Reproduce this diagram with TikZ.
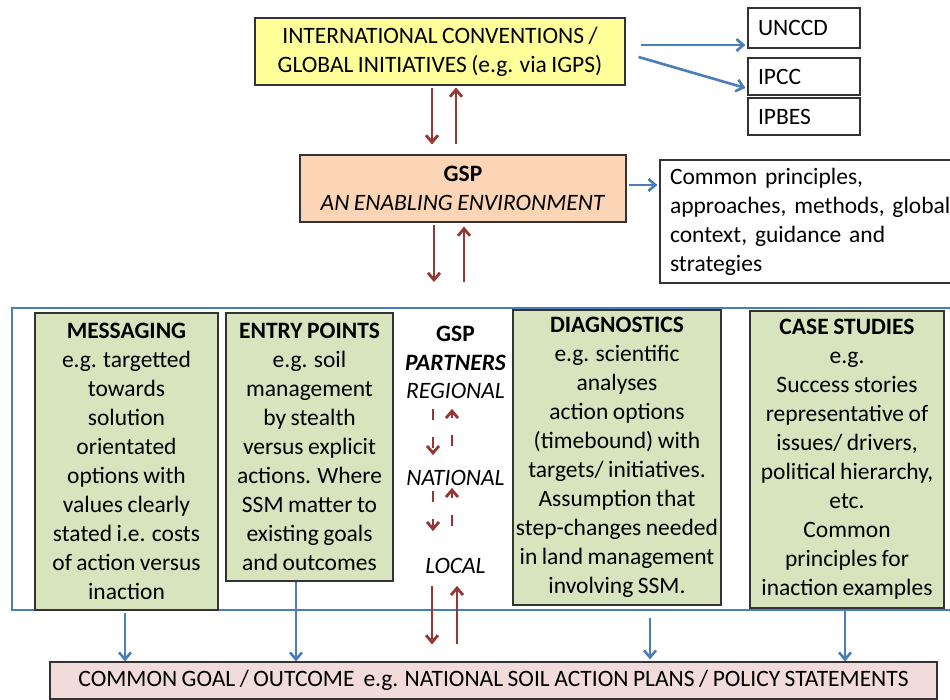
\documentclass[tikz,border=0pt]{standalone}
\usepackage{fontspec}
\setmainfont{Carlito}[WordSpace=0.85]
\usetikzlibrary{arrows.meta,positioning}
\definecolor{gspred}{HTML}{953735}
\definecolor{gspblue}{HTML}{4A7EBB}
\definecolor{boxgreen}{HTML}{D7E4BD}
\definecolor{boxyellow}{HTML}{FFFF99}
\definecolor{boxpeach}{HTML}{FBD5B5}
\definecolor{boxpink}{HTML}{F2DCDB}
\tikzset{>={Straight Barb[length=7pt,width=12pt]}}
\tikzset{
  box/.style = {draw=black!80, line width=1.2pt, inner sep=0pt, align=center,
    font=\fontsize{23.5}{29}\selectfont},
  leftbox/.style = {box, align=left, inner xsep=10pt},
  greenbox/.style = {box, fill=boxgreen},
  level/.style = {inner sep=0pt, align=center, font=\fontsize{23.5}{29}\selectfont},
  feed/.style = {->, gspblue, line width=2.6pt},
  link/.style = {->, gspred, line width=2.8pt},
  dlink/.style = {link, dash pattern=on 11pt off 17pt}
}

\begin{document}
\begin{tikzpicture}[x=1pt,y=-1pt]
  \clip (0,0) rectangle (950,700);
  \fill[white] (0,0) rectangle (950,700);

  \node[box, fill=boxyellow, minimum width=370, minimum height=67] (conv) at (440,51.5)
    {INTERNATIONAL CONVENTIONS /\\GLOBAL INITIATIVES (e.g. via IGPS)};
  \node[leftbox, text width=92pt, minimum height=40] (unccd) at (804,28) {UNCCD};
  \node[leftbox, text width=92pt, minimum height=37] (ipcc) at (804,76.5) {IPCC};
  \node[leftbox, text width=92pt, minimum height=37] (ipbes) at (804,116.5) {IPBES};

  \node[box, fill=boxpeach, minimum width=326, minimum height=67] (gsp) at (463,188.5)
    {\textbf{GSP}\\\textit{AN ENABLING ENVIRONMENT}};
  \node[leftbox, text width=320pt, minimum height=123] (common) at (830,221.5)
    {Common principles,\\approaches, methods, global\\context, guidance and\\strategies};

  \node[draw=gspblue, line width=2pt, minimum width=950, minimum height=302] (frame) at (487,459) {};

  \node[greenbox, minimum width=183, minimum height=297] (msg) at (126.5,461.5)
    {\textbf{MESSAGING}\\e.g. targetted\\towards\\solution\\orientated\\options with\\values clearly\\stated i.e. costs\\of action versus\\inaction};
  \node[greenbox, minimum width=167, minimum height=268] (entry) at (309.5,447)
    {\textbf{ENTRY POINTS}\\e.g. soil\\management\\by stealth\\versus explicit\\actions. Where\\SSM matter to\\existing goals\\and outcomes};
  \node[greenbox, minimum width=208, minimum height=295] (diag) at (617,457.5)
    {\textbf{DIAGNOSTICS}\\e.g. scientific\\analyses\\action options\\(timebound) with\\targets/ initiatives.\\Assumption that\\step-changes needed\\in land management\\involving SSM.};
  \node[greenbox, minimum width=194, minimum height=297] (cases) at (847,459.5)
    {\textbf{CASE STUDIES}\\e.g.\\Success stories\\representative of\\issues/ drivers,\\political hierarchy,\\etc.\\Common\\principles for\\inaction examples};

  \node[level] (partners) at (455.5,348) {\textbf{GSP}\\\textbf{\textit{PARTNERS}}};
  \node[level] (regional) at (455.5,391) {\textit{REGIONAL}};
  \node[level] (national) at (455.5,478) {\textit{NATIONAL}};
  \node[level] (local) at (455.5,566) {\textit{LOCAL}};

  \node[box, fill=boxpink, minimum width=887, minimum height=37] (goal) at (493.5,680.5)
    {COMMON GOAL / OUTCOME\ \ e.g. NATIONAL SOIL ACTION PLANS / POLICY STATEMENTS};

  \draw[feed] ([xshift=15pt,yshift=6.5pt]conv.east) -- ([xshift=-2pt,yshift=-17pt]unccd.west);
  \draw[feed] ([xshift=13pt,yshift=-5.5pt]conv.east) -- ([xshift=-2pt,yshift=-11.5pt]ipcc.west);
  \coordinate (g1) at ([yshift=3.5pt]gsp.east);
  \draw[feed, shorten <=2pt, shorten >=2pt] (g1) -- (g1 -| common.west);

  \coordinate (c1) at ([xshift=-8pt]conv.south);
  \coordinate (c2) at ([xshift=16pt]conv.south);
  \draw[link, shorten <=2pt, shorten >=10pt] (c1) -- (c1 |- gsp.north);
  \draw[link, shorten <=10pt, shorten >=2pt] (c2 |- gsp.north) -- (c2);

  \coordinate (s1) at ([xshift=-29pt]gsp.south);
  \coordinate (s2) at ([xshift=1pt]gsp.south);
  \draw[link, shorten <=2pt, shorten >=25pt] (s1) -- (s1 |- frame.north);
  \draw[link, shorten <=25pt, shorten >=4pt] (s2 |- frame.north) -- (s2);

  \draw[dlink] ([xshift=-22.5pt,yshift=-10pt]regional.south) -- ([xshift=-22.5pt,yshift=15pt]national.north);
  \draw[dlink] ([xshift=-3.5pt,yshift=24pt]national.north) -- ([xshift=-3.5pt,yshift=-10pt]regional.south);
  \draw[dlink] ([xshift=-22.5pt,yshift=-5pt]national.south) -- ([xshift=-22.5pt,yshift=27pt]local.north);
  \draw[dlink] ([xshift=-3.5pt,yshift=32pt]local.north) -- ([xshift=-3.5pt,yshift=-2pt]national.south);

  \coordinate (l1) at ([xshift=-23.5pt]local.south);
  \coordinate (l2) at ([xshift=1.5pt]local.south);
  \draw[link, shorten <=12pt, shorten >=17pt] (l1) -- (l1 |- goal.north);
  \draw[link, shorten <=17pt, shorten >=12pt] (l2 |- goal.north) -- (l2);

  \coordinate (m1) at ([xshift=-1.5pt]msg.south);
  \coordinate (e1) at ([xshift=-13.5pt]entry.south);
  \coordinate (d1) at ([xshift=33pt]diag.south);
  \coordinate (k1) at ([xshift=-2pt]cases.south);
  \draw[feed, shorten <=2pt] (m1) -- (m1 |- goal.north);
  \draw[feed] (e1) -- (e1 |- goal.north);
  \draw[feed, shorten <=12pt, shorten >=2pt] (d1) -- (d1 |- goal.north);
  \draw[feed, shorten <=2pt] (k1) -- (k1 |- goal.north);
\end{tikzpicture}
\end{document}
